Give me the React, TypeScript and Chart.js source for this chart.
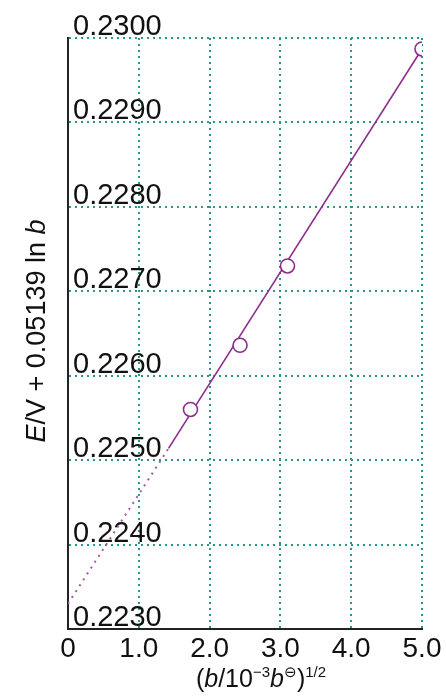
import React, { useEffect, useRef } from "react";
import { Chart, registerables } from "chart.js";

Chart.register(...registerables);

// ---- data ----
const xTickLabels = ["0", "1.0", "2.0", "3.0", "4.0", "5.0"];
const yTickLabels = ["0.2230", "0.2240", "0.2250", "0.2260", "0.2270", "0.2280", "0.2290", "0.2300"];

const pointX = [1.73, 2.43, 3.1, 5.0];
const pointY = [0.2256, 0.22636, 0.2273, 0.22987];

const solidFitX = [1.42, 5.0];
const solidFitY = [0.22514, 0.22987];

const dottedFitX = [0, 1.42];
const dottedFitY = [0.2233, 0.22514];

const FONT = "'Liberation Sans', Arial, sans-serif";
const PURPLE = "#8a2d8c";
const TEAL = "#2a968a";

type Part = { t: string; it?: boolean; sup?: boolean };

function drawRich(ctx: CanvasRenderingContext2D, parts: Part[], size: number, supSize: number) {
  const fontFor = (p: Part) => `${p.it ? "italic " : ""}${p.sup ? supSize : size}px ${FONT}`;
  let total = 0;
  const widths = parts.map((p) => {
    ctx.font = fontFor(p);
    const w = ctx.measureText(p.t).width;
    total += w;
    return w;
  });
  let x = -total / 2;
  ctx.textAlign = "left";
  ctx.textBaseline = "alphabetic";
  parts.forEach((p, i) => {
    ctx.font = fontFor(p);
    ctx.fillText(p.t, x, p.sup ? -size * 0.42 : 0);
    x += widths[i];
  });
}

const titlePlugin = {
  id: "titles",
  afterDraw(chart: any) {
    const ctx: CanvasRenderingContext2D = chart.ctx;
    ctx.save();
    ctx.fillStyle = "#111111";
    // x title
    ctx.save();
    ctx.translate(261, 687);
    drawRich(
      ctx,
      [
        { t: "(" },
        { t: "b", it: true },
        { t: "/10" },
        { t: "\u2212" + "3", sup: true },
        { t: "b", it: true },
        { t: "\u2296", sup: true },
        { t: ")" },
        { t: "1/2", sup: true },
      ],
      25,
      15
    );
    ctx.restore();
    // y title
    ctx.save();
    ctx.translate(45, 331);
    ctx.rotate(-Math.PI / 2);
    drawRich(
      ctx,
      [{ t: "E", it: true }, { t: "/V + 0.05139 ln " }, { t: "b", it: true }],
      27,
      16
    );
    ctx.restore();
    ctx.restore();
  },
};

export default function App() {
  const ref = useRef<HTMLCanvasElement | null>(null);

  useEffect(() => {
    document.body.style.margin = "0";
    const canvas = ref.current;
    if (!canvas) return;
    const chart = new Chart(canvas, {
      type: "scatter",
      data: {
        datasets: [
          {
            label: "points",
            data: pointX.map((x, i) => ({ x, y: pointY[i] })),
            pointRadius: 7,
            pointBorderWidth: 1.6,
            pointBackgroundColor: "#ffffff",
            pointBorderColor: PURPLE,
            showLine: false,
            order: 0,
          },
          {
            label: "fit",
            data: solidFitX.map((x, i) => ({ x, y: solidFitY[i] })),
            showLine: true,
            borderColor: PURPLE,
            borderWidth: 1.6,
            pointRadius: 0,
            order: 1,
          },
          {
            label: "extrapolation",
            data: dottedFitX.map((x, i) => ({ x, y: dottedFitY[i] })),
            showLine: true,
            borderColor: "#a357a5",
            borderWidth: 2,
            borderDash: [2, 5],
            pointRadius: 0,
            order: 2,
          },
        ],
      },
      options: {
        animation: false,
        responsive: false,
        maintainAspectRatio: false,
        devicePixelRatio: 1,
        layout: { padding: { left: 68, right: 24, top: 38, bottom: 28 } },
        plugins: { legend: { display: false }, tooltip: { enabled: false } },
        scales: {
          x: {
            type: "linear",
            min: 0,
            max: 5,
            afterFit: (s: any) => {
              s.height = 40;
            },
            ticks: {
              stepSize: 1,
              padding: 3,
              color: "#111111",
              font: { family: FONT, size: 28 },
              maxRotation: 0,
              autoSkip: false,
              callback: (_v: any, i: number) => xTickLabels[i],
            },
            grid: { color: TEAL, lineWidth: 2, drawTicks: false },
            border: { display: true, color: "#222222", width: 2, dash: [2, 4] },
          },
          y: {
            type: "linear",
            min: 0.223,
            max: 0.23,
            afterFit: (s: any) => {
              s.width = 0;
            },
            ticks: {
              stepSize: 0.001,
              mirror: true,
              padding: 5,
              labelOffset: -11,
              color: "#111111",
              font: { family: FONT, size: 29 },
              callback: (_v: any, i: number) => yTickLabels[i],
            },
            grid: { color: TEAL, lineWidth: 2, drawTicks: false },
            border: { display: true, color: "#222222", width: 2, dash: [2, 4] },
          },
        },
      },
      plugins: [titlePlugin],
    } as any);
    return () => chart.destroy();
  }, []);

  return (
    <div style={{ width: 446, height: 697, position: "relative" }}>
      <canvas ref={ref} width={446} height={697} style={{ display: "block" }} />
    </div>
  );
}
